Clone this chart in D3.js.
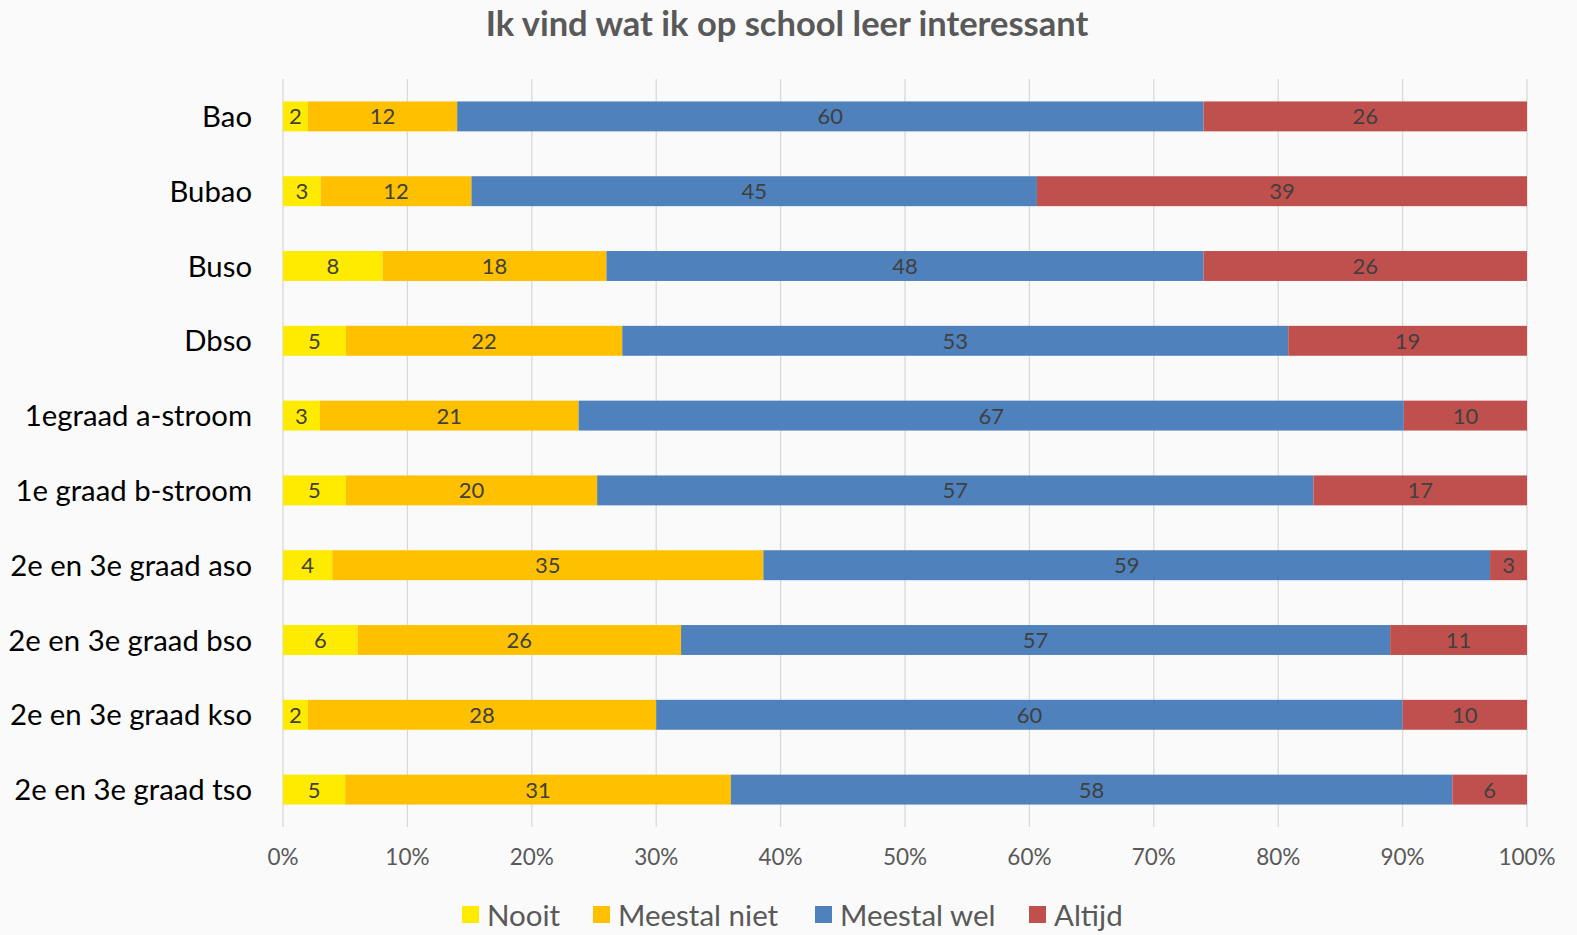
<!DOCTYPE html>
<html>
<head>
<meta charset="utf-8">
<script src="https://cdn.jsdelivr.net/npm/d3@7"></script>
<style>
  body { margin: 0; background: #fafafa; }
  svg { display: block; }
</style>
</head>
<body>
<div id="chart"></div>
<script>
'use strict';

var categories = ['Bao', 'Bubao', 'Buso', 'Dbso', '1egraad a-stroom', '1e graad b-stroom',
    '2e en 3e graad aso', '2e en 3e graad bso', '2e en 3e graad kso', '2e en 3e graad tso'];
var seriesNames = ['Nooit', 'Meestal niet', 'Meestal wel', 'Altijd'];
var nooit       = [2, 3, 8, 5, 3, 5, 4, 6, 2, 5];
var meestalNiet = [12, 12, 18, 22, 21, 20, 35, 26, 28, 31];
var meestalWel  = [60, 45, 48, 53, 67, 57, 59, 57, 60, 58];
var altijd      = [26, 39, 26, 19, 10, 17, 3, 11, 10, 6];
var xTicks = [0, 0.1, 0.2, 0.3, 0.4, 0.5, 0.6, 0.7, 0.8, 0.9, 1];

var colors = ['#ffeb00', '#ffc000', '#4f81bd', '#c0504d'];
var font = 'Lato, "Open Sans", sans-serif';

var width = 1577, height = 935;
var margin = { left: 283, right: 50, top: 79, bottom: 108 };

var svg = d3.select('#chart')
    .append('svg')
    .attr('width', width)
    .attr('height', height);

svg.append('rect').attr('width', width).attr('height', height).attr('fill', '#fafafa');

var rows = categories.map(function (c, i) {
    var vals = [nooit[i], meestalNiet[i], meestalWel[i], altijd[i]];
    var row = { category: c };
    seriesNames.forEach(function (s, j) { row[s] = vals[j]; });
    return row;
});

var x = d3.scaleLinear().domain([0, 1]).range([margin.left, width - margin.right]);
var y = d3.scaleBand().domain(categories)
    .range([margin.top, height - margin.bottom])
    .paddingInner(0.6).paddingOuter(0.3);

// gridlines
svg.append('g')
    .selectAll('line')
    .data(xTicks)
    .enter()
    .append('line')
    .attr('x1', function (d) { return x(d); })
    .attr('x2', function (d) { return x(d); })
    .attr('y1', margin.top)
    .attr('y2', height - margin.bottom)
    .attr('stroke', '#d9d9d9')
    .attr('stroke-width', 1.3);

// rows don't all sum to 100, so normalise like the original 100% chart
var stacked = d3.stack()
    .keys(seriesNames)
    .offset(d3.stackOffsetExpand)(rows);

var layers = svg.append('g')
    .selectAll('g')
    .data(stacked)
    .enter()
    .append('g')
    .attr('fill', function (d, i) { return colors[i]; });

layers.selectAll('rect')
    .data(function (d) { return d; })
    .enter()
    .append('rect')
    .attr('x', function (d) { return x(d[0]); })
    .attr('width', function (d) { return x(d[1]) - x(d[0]); })
    .attr('y', function (d) { return y(d.data.category); })
    .attr('height', y.bandwidth());

layers.each(function (layer) {
    d3.select(this).selectAll('text')
        .data(layer)
        .enter()
        .append('text')
        .attr('x', function (d) { return (x(d[0]) + x(d[1])) / 2; })
        .attr('y', function (d) { return y(d.data.category) + y.bandwidth() / 2; })
        .attr('dy', '0.36em')
        .attr('text-anchor', 'middle')
        .attr('font-family', font)
        .attr('font-size', 22)
        .attr('fill', '#404040')
        .text(function (d) { return d.data[layer.key]; });
});

// category labels
svg.append('g')
    .selectAll('text')
    .data(categories)
    .enter()
    .append('text')
    .attr('x', 252)
    .attr('y', function (d) { return y(d) + y.bandwidth() / 2; })
    .attr('dy', '0.36em')
    .attr('text-anchor', 'end')
    .attr('font-family', font)
    .attr('font-size', 29.3)
    .attr('fill', '#000')
    .text(function (d) { return d; });

// x axis labels
svg.append('g')
    .selectAll('text')
    .data(xTicks)
    .enter()
    .append('text')
    .attr('x', function (d) { return x(d); })
    .attr('y', 865)
    .attr('text-anchor', 'middle')
    .attr('font-family', font)
    .attr('font-size', 22.5)
    .attr('fill', '#595959')
    .text(d3.format('.0%'));

// title
svg.append('text')
    .attr('x', 787)
    .attr('y', 36)
    .attr('text-anchor', 'middle')
    .attr('font-family', font)
    .attr('font-weight', 'bold')
    .attr('font-size', 34.5)
    .attr('fill', '#595959')
    .text('Ik vind wat ik op school leer interessant');

// legend
var legendX = [462, 593, 815, 1029];
var legend = svg.append('g')
    .selectAll('g')
    .data(seriesNames)
    .enter()
    .append('g')
    .attr('transform', function (d, i) { return 'translate(' + legendX[i] + ',906)'; });

legend.append('rect')
    .attr('width', 17)
    .attr('height', 17)
    .attr('fill', function (d, i) { return colors[i]; });

legend.append('text')
    .attr('x', 25)
    .attr('y', 9)
    .attr('dy', '0.36em')
    .attr('font-family', font)
    .attr('font-size', 29.5)
    .attr('fill', '#595959')
    .text(function (d) { return d; });
</script>
</body>
</html>
